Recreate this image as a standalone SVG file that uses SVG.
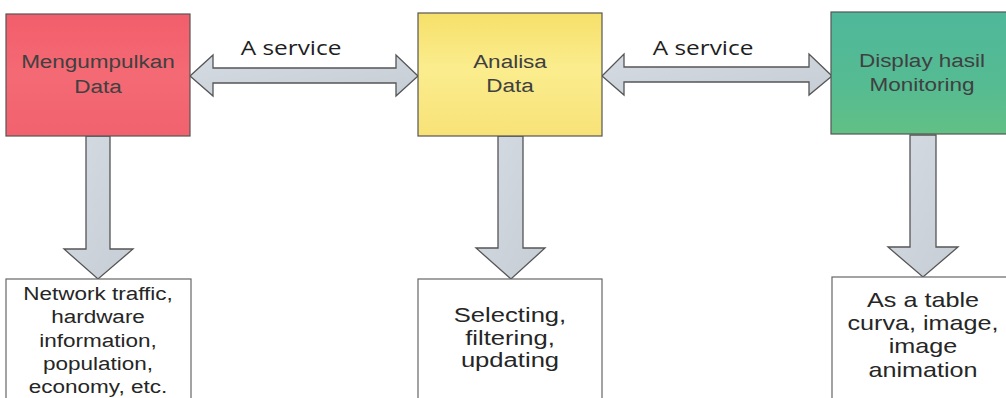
<svg xmlns="http://www.w3.org/2000/svg" width="1006" height="398" viewBox="0 0 1006 398">
  <style>
    .box { stroke: #555; stroke-width: 1.2; }
    .out { fill: #ffffff; stroke: #666; stroke-width: 1.2; }
    .arrow { fill: url(#arrowFill); stroke: #555; stroke-width: 1.3; stroke-linejoin: miter; }
    .t { font-family: "Liberation Sans", Arial, sans-serif; fill: #3a3a3a; text-anchor: middle; }
    .tin { font-size: 18px; fill: #404040; }
    .tout { fill: #262626; }
    .lbl { font-family: "Open Sans", "Liberation Sans", sans-serif; font-size: 19.5px; fill: #1e1e1e; text-anchor: middle; }
  </style>
  <defs>
    <linearGradient id="redFill" x1="0" y1="0" x2="0" y2="1">
      <stop offset="0" stop-color="#f25e6b"/>
      <stop offset="0.5" stop-color="#f46a74"/>
      <stop offset="1" stop-color="#f1626e"/>
    </linearGradient>
    <linearGradient id="yellowFill" x1="0" y1="0" x2="0" y2="1">
      <stop offset="0" stop-color="#f6e06a"/>
      <stop offset="0.45" stop-color="#fbed8e"/>
      <stop offset="1" stop-color="#f7e277"/>
    </linearGradient>
    <linearGradient id="greenFill" x1="0" y1="0" x2="0" y2="1">
      <stop offset="0" stop-color="#4fb89a"/>
      <stop offset="0.6" stop-color="#55bb92"/>
      <stop offset="1" stop-color="#62c085"/>
    </linearGradient>
    <linearGradient id="arrowFill" x1="0" y1="0" x2="1" y2="1">
      <stop offset="0" stop-color="#d4dbe2"/>
      <stop offset="1" stop-color="#c6cdd5"/>
    </linearGradient>
  </defs>

  <rect width="1006" height="398" fill="#ffffff"/>

  <!-- connectors: two-way service links and downward result arrows -->
  <g id="connectors">
    <path class="arrow" d="M190,76 L213,55 L213,68 L396,68 L396,55 L418,76 L396,96 L396,83 L213,83 L213,96 Z"/>
    <path class="arrow" d="M602,76 L624,54 L624,67 L809,67 L809,54 L832,76 L809,95 L809,82 L624,82 L624,95 Z"/>
    <path class="arrow" d="M86,136 L110,136 L110,249 L133,249 L98,279 L64,249 L86,249 Z"/>
    <path class="arrow" d="M498,136 L523,136 L523,248 L545,248 L511,279 L476,248 L498,248 Z"/>
    <path class="arrow" d="M910,135 L936,135 L936,247 L958,247 L923,277 L888,247 L910,247 Z"/>
    <text class="lbl" transform="matrix(1.25 0 0 1 291 55)">A service</text>
    <text class="lbl" transform="matrix(1.25 0 0 1 703 55)">A service</text>
  </g>

  <!-- stage 1 -->
  <g id="collect">
    <rect class="box" x="6" y="14" width="184" height="122" fill="url(#redFill)"/>
    <text class="t tin" transform="matrix(1.25 0 0 1 98 68)">Mengumpulkan</text>
    <text class="t tin" transform="matrix(1.25 0 0 1 98 93)">Data</text>
  </g>

  <!-- stage 2 -->
  <g id="analyse">
    <rect class="box" x="418" y="13" width="184" height="123" fill="url(#yellowFill)"/>
    <text class="t tin" transform="matrix(1.25 0 0 1 510 68)">Analisa</text>
    <text class="t tin" transform="matrix(1.25 0 0 1 510 92)">Data</text>
  </g>

  <!-- stage 3 -->
  <g id="display">
    <rect class="box" x="831" y="12" width="182" height="122" fill="url(#greenFill)"/>
    <text class="t tin" transform="matrix(1.25 0 0 1 922 67)">Display hasil</text>
    <text class="t tin" transform="matrix(1.25 0 0 1 922 91)">Monitoring</text>
  </g>

  <!-- stage 1 output -->
  <g id="collect-out">
    <rect class="out" x="6" y="279" width="185" height="130"/>
    <g class="t tout" font-size="18">
      <text transform="matrix(1.25 0 0 1 98 300)">Network traffic,</text>
      <text transform="matrix(1.25 0 0 1 98 323)">hardware</text>
      <text transform="matrix(1.25 0 0 1 98 347)">information,</text>
      <text transform="matrix(1.25 0 0 1 98 370)">population,</text>
      <text transform="matrix(1.25 0 0 1 98 393)">economy, etc.</text>
    </g>
  </g>

  <!-- stage 2 output -->
  <g id="analyse-out">
    <rect class="out" x="418" y="279" width="184" height="130"/>
    <g class="t tout" font-size="21">
      <text transform="matrix(1.22 0 0 1 510 322)">Selecting,</text>
      <text transform="matrix(1.22 0 0 1 510 345)">filtering,</text>
      <text transform="matrix(1.22 0 0 1 510 367)">updating</text>
    </g>
  </g>

  <!-- stage 3 output -->
  <g id="display-out">
    <rect class="out" x="832" y="277" width="182" height="130"/>
    <g class="t tout" font-size="20">
      <text transform="matrix(1.26 0 0 1 923 307)">As a table</text>
      <text transform="matrix(1.26 0 0 1 923 330)">curva, image,</text>
      <text transform="matrix(1.26 0 0 1 923 353)">image</text>
      <text transform="matrix(1.26 0 0 1 923 377)">animation</text>
    </g>
  </g>
</svg>
